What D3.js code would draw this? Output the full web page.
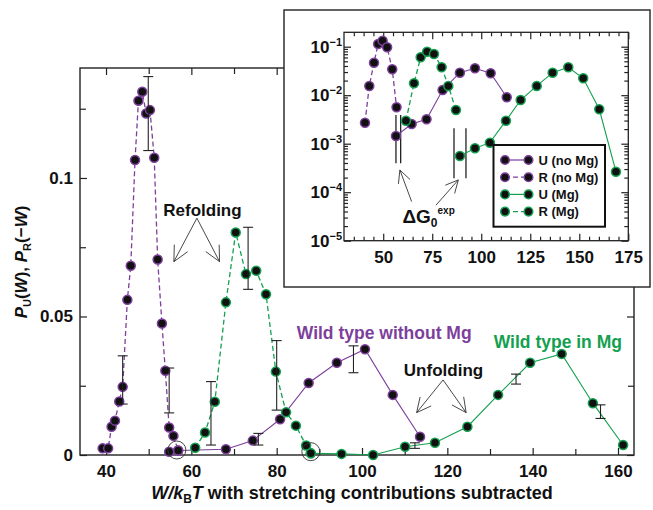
<!DOCTYPE html>
<html>
<head>
<meta charset="utf-8">
<script src="https://cdn.jsdelivr.net/npm/d3@7"></script>
<style>
body { margin: 0; background: #fff; }
text { font-family: "Liberation Sans", Arial, sans-serif; font-weight: bold; fill: #111; }
</style>
</head>
<body>
<div id="chart"></div>
<script>
// ---- main panel: [W/kT, probability] ----
var r_nomg = [
    [39.2, 0.0024], [40.5, 0.0024], [41.3, 0.0102], [42.1, 0.0124], [43.1, 0.0193],
    [43.9, 0.0246], [45.0, 0.0560], [45.8, 0.0683], [46.8, 0.1065], [47.6, 0.1279],
    [48.5, 0.1311], [49.4, 0.1233], [50.3, 0.1245], [51.3, 0.1073], [52.1, 0.0706],
    [53.1, 0.0475], [53.9, 0.0304], [54.8, 0.0099], [55.8, 0.0069], [56.9, 0.0016]
];
var u_nomg = [
    [54.8, 0.0012], [56.9, 0.0016], [68.1, 0.0021], [74.4, 0.0052], [80.8, 0.0129],
    [87.5, 0.0260], [94.1, 0.0333], [100.7, 0.0382], [107.2, 0.0217], [113.6, 0.0066]
];
var r_mg = [
    [60.9, 0.0026], [63.2, 0.0081], [65.5, 0.0192], [68.1, 0.0551], [70.4, 0.0803],
    [72.8, 0.0653], [75.2, 0.0665], [77.5, 0.0580], [79.8, 0.0301], [82.2, 0.0154],
    [84.5, 0.0106], [86.9, 0.0034], [88.0, 0.0006]
];
var u_mg = [
    [88.0, 0.0006], [95.2, 0.0004], [102.6, 0.0], [110.1, 0.0030], [117.1, 0.0044],
    [124.7, 0.0102], [131.9, 0.0217], [139.4, 0.0333], [146.8, 0.0365], [154.1, 0.0187],
    [161.2, 0.0036]
];
// error bars: [x, low, high]
var err_bars = [
    [43.9, 0.0184, 0.0358], [49.9, 0.1099, 0.1366], [54.8, 0.0152, 0.0314],
    [75.7, 0.0036, 0.0078], [98.0, 0.0297, 0.0394], [112.4, 0.0024, 0.0044],
    [64.6, 0.0036, 0.0265], [73.3, 0.0598, 0.0822], [80.0, 0.0162, 0.0413],
    [136.1, 0.0256, 0.0292], [155.9, 0.0132, 0.0181]
];
var crossings = [[56.6, 0.0018], [88.0, 0.0012]];

var x_ticks = [40, 60, 80, 100, 120, 140, 160];
var x_minor = [50, 70, 90, 110, 130, 150];
var y_ticks = [0, 0.05, 0.1];
var y_tick_labels = ['0', '0.05', '0.1'];
var y_minor = [0.025, 0.075, 0.125];

// ---- inset (log scale) ----
var in_r_nomg = [
    [40.7, 0.00271], [42.9, 0.0155], [45.3, 0.0468], [47.4, 0.114], [49.7, 0.133],
    [52.0, 0.097], [54.6, 0.0342], [56.8, 0.00564]
];
var in_u_nomg = [
    [56.5, 0.00144], [64.5, 0.00255], [72.1, 0.00318], [80.3, 0.0128], [89.1, 0.0291],
    [96.8, 0.0359], [104.8, 0.0283], [113.0, 0.00906]
];
var in_r_mg = [
    [61.6, 0.00298], [65.7, 0.0176], [69.1, 0.0604], [72.4, 0.0789], [75.9, 0.0707],
    [79.8, 0.0376], [83.2, 0.0155], [87.1, 0.00495]
];
var in_u_mg = [
    [89.1, 0.000557], [96.8, 0.000803], [104.4, 0.00105], [112.6, 0.00298], [120.1, 0.00796],
    [128.3, 0.0155], [136.4, 0.0291], [144.4, 0.0376], [152.0, 0.0223], [160.2, 0.00512],
    [168.7, 0.000265]
];
// vertical marker lines: [x, low, high]
var in_vlines = [
    [56.5, 0.000394, 0.0039], [58.9, 0.000394, 0.0039],
    [86.1, 0.000194, 0.00208], [92.2, 0.000194, 0.00208]
];
var in_x_ticks = [50, 75, 100, 125, 150, 175];
var in_y_exp = [-1, -2, -3, -4, -5];
var legend_names = ['U (no Mg)', 'R (no Mg)', 'U (Mg)', 'R (Mg)'];

var purple = '#7d3f9c';
var green = '#13a04f';

var chart_width = 653;
var chart_height = 510;

var svg = d3.select('#chart')
    .append('svg')
    .attr('width', chart_width)
    .attr('height', chart_height);

// ================= main panel =================
var x_scale = d3.scaleLinear().domain([33.9, 163.75]).range([80, 634]);
var y_scale = d3.scaleLinear().domain([0, 0.1397]).range([455, 68]);

function add_ticks(g, scale, orient, vals, size, labels, pad) {
    var ax = orient(scale).tickValues(vals).tickSizeInner(size).tickSizeOuter(0).tickPadding(pad || 0);
    if (labels) ax.tickFormat(function(d, i) { return labels[i]; });
    else ax.tickFormat('');
    var a = g.append('g').call(ax);
    a.select('.domain').remove();
    a.selectAll('line').attr('stroke', '#222').attr('stroke-width', 1.2);
    a.selectAll('text').style('font-size', '17px').style('fill', '#111');
    return a;
}

var main_g = svg.append('g');
var bx = main_g.append('g').attr('transform', 'translate(0,455)');
add_ticks(bx, x_scale, d3.axisBottom, x_ticks, -7, x_ticks.map(String), 10);
add_ticks(bx, x_scale, d3.axisBottom, x_minor, -6);
var tx = main_g.append('g').attr('transform', 'translate(0,68)');
add_ticks(tx, x_scale, d3.axisTop, x_ticks, -7);
add_ticks(tx, x_scale, d3.axisTop, x_minor, -6);
var ly = main_g.append('g').attr('transform', 'translate(80,0)');
add_ticks(ly, y_scale, d3.axisLeft, y_ticks, -7, y_tick_labels, 7);
add_ticks(ly, y_scale, d3.axisLeft, y_minor, -6);
var ry = main_g.append('g').attr('transform', 'translate(634,0)');
add_ticks(ry, y_scale, d3.axisRight, y_ticks, -7);
add_ticks(ry, y_scale, d3.axisRight, y_minor, -6);

main_g.append('rect')
    .attr('x', 80).attr('y', 68)
    .attr('width', 634 - 80).attr('height', 455 - 68)
    .attr('fill', 'none').attr('stroke', '#222').attr('stroke-width', 1.4);

function draw_series(g, xs, ys, data, color, dashed) {
    var line = d3.line()
        .x(function(d) { return xs(d[0]); })
        .y(function(d) { return ys(d[1]); });
    g.append('path')
        .datum(data)
        .attr('d', line)
        .attr('fill', 'none')
        .attr('stroke', color)
        .attr('stroke-width', dashed ? 1.3 : 1.1)
        .attr('stroke-dasharray', dashed ? '5,3' : null);
    g.append('g').selectAll('circle')
        .data(data)
        .enter()
        .append('circle')
        .attr('cx', function(d) { return xs(d[0]); })
        .attr('cy', function(d) { return ys(d[1]); })
        .attr('r', 4.5)
        .attr('fill', '#111')
        .attr('stroke', color)
        .attr('stroke-width', 1.5);
}

draw_series(main_g, x_scale, y_scale, u_nomg, purple, false);
draw_series(main_g, x_scale, y_scale, r_nomg, purple, true);
draw_series(main_g, x_scale, y_scale, u_mg, green, false);
draw_series(main_g, x_scale, y_scale, r_mg, green, true);

// error bars
var eb = main_g.append('g').selectAll('g')
    .data(err_bars)
    .enter()
    .append('g')
    .attr('stroke', '#222')
    .attr('stroke-width', 1.1);
eb.append('line')
    .attr('x1', function(d) { return x_scale(d[0]); })
    .attr('x2', function(d) { return x_scale(d[0]); })
    .attr('y1', function(d) { return y_scale(d[1]); })
    .attr('y2', function(d) { return y_scale(d[2]); });
[1, 2].forEach(function(k) {
    eb.append('line')
        .attr('x1', function(d) { return x_scale(d[0]) - 5; })
        .attr('x2', function(d) { return x_scale(d[0]) + 5; })
        .attr('y1', function(d) { return y_scale(d[k]); })
        .attr('y2', function(d) { return y_scale(d[k]); });
});

// circled crossings
main_g.append('g').selectAll('circle')
    .data(crossings)
    .enter()
    .append('circle')
    .attr('cx', function(d) { return x_scale(d[0]); })
    .attr('cy', function(d) { return y_scale(d[1]); })
    .attr('r', 9)
    .attr('fill', 'none')
    .attr('stroke', '#333')
    .attr('stroke-width', 0.9);

// arrows drawn from tail to tip, open heads
function arrow(g, x1, y1, x2, y2, len) {
    g.append('line')
        .attr('x1', x1).attr('y1', y1).attr('x2', x2).attr('y2', y2);
    var a = Math.atan2(y1 - y2, x1 - x2);
    [-0.46, 0.46].forEach(function(d) {
        g.append('line')
            .attr('x1', x2).attr('y1', y2)
            .attr('x2', x2 + len * Math.cos(a + d))
            .attr('y2', y2 + len * Math.sin(a + d));
    });
}
var arr_g = main_g.append('g').attr('stroke', '#333').attr('stroke-width', 0.9);
arrow(arr_g, x_scale(61.3), y_scale(0.0855), x_scale(55.9), y_scale(0.0698), 17);
arrow(arr_g, x_scale(61.3), y_scale(0.0855), x_scale(66.6), y_scale(0.0698), 17);
arrow(arr_g, x_scale(119.0), y_scale(0.0271), x_scale(112.8), y_scale(0.0153), 16);
arrow(arr_g, x_scale(119.0), y_scale(0.0271), x_scale(124.4), y_scale(0.0153), 16);

main_g.append('text')
    .attr('x', x_scale(62.6)).attr('y', y_scale(0.0884)).attr('dy', '0.35em')
    .attr('text-anchor', 'middle').style('font-size', '17px')
    .text('Refolding');
main_g.append('text')
    .attr('x', x_scale(119.1)).attr('y', y_scale(0.0307)).attr('dy', '0.35em')
    .attr('text-anchor', 'middle').style('font-size', '17px')
    .text('Unfolding');
main_g.append('text')
    .attr('x', x_scale(105.2)).attr('y', y_scale(0.044)).attr('dy', '0.35em')
    .attr('text-anchor', 'middle').style('font-size', '17.5px').style('fill', purple)
    .text('Wild type without Mg');
main_g.append('text')
    .attr('x', x_scale(145.9)).attr('y', y_scale(0.0409)).attr('dy', '0.35em')
    .attr('text-anchor', 'middle').style('font-size', '17.5px').style('fill', green)
    .text('Wild type in Mg');

// axis titles
var xl = svg.append('text')
    .attr('x', 352).attr('y', 499)
    .attr('text-anchor', 'middle').style('font-size', '18px');
xl.append('tspan').style('font-style', 'italic').text('W/k');
xl.append('tspan').attr('dy', 4).style('font-size', '12px').text('B');
xl.append('tspan').attr('dy', -4).style('font-style', 'italic').text('T');
xl.append('tspan').text(' with stretching contributions subtracted');

var yl = svg.append('text')
    .attr('transform', 'translate(27,262) rotate(-90)')
    .attr('text-anchor', 'middle').style('font-size', '17px');
yl.append('tspan').style('font-style', 'italic').text('P');
yl.append('tspan').attr('dy', 4).style('font-size', '11px').text('U');
yl.append('tspan').attr('dy', -4).text('(');
yl.append('tspan').style('font-style', 'italic').text('W');
yl.append('tspan').text('), ');
yl.append('tspan').style('font-style', 'italic').text('P');
yl.append('tspan').attr('dy', 4).style('font-size', '11px').text('R');
yl.append('tspan').attr('dy', -4).text('(\u2212');
yl.append('tspan').style('font-style', 'italic').text('W');
yl.append('tspan').text(')');

// ================= inset =================
svg.append('rect')
    .attr('x', 284).attr('y', 10)
    .attr('width', 650 - 284).attr('height', 287 - 10)
    .attr('fill', '#fff').attr('stroke', '#222').attr('stroke-width', 1.4);

var in_l = 344, in_r = 628.3, in_t = 32.3, in_b = 240.7;
var xi = d3.scaleLinear().domain([30, 175]).range([in_l, in_r]);
var yi = d3.scaleLog().domain([1e-5, 0.198]).range([in_b, in_t]);

var in_g = svg.append('g');
var minor_x = d3.range(35, 175, 5).filter(function(v) { return v % 25 !== 0; });
var minor_y = [];
in_y_exp.forEach(function(e) {
    if (e === -5) return;
    for (var m = 2; m <= 9; m++) minor_y.push(m * Math.pow(10, e - 1));
});
for (var m2 = 2; m2 <= 9 && m2 * 0.1 <= 0.198; m2++) minor_y.push(m2 * 0.1);

var in_major_y = in_y_exp.map(function(e) { return Math.pow(10, e); });

var ibx = in_g.append('g').attr('transform', 'translate(0,' + in_b + ')');
add_ticks(ibx, xi, d3.axisBottom, in_x_ticks, -7, in_x_ticks.map(String), 10);
add_ticks(ibx, xi, d3.axisBottom, minor_x, -4);
var itx = in_g.append('g').attr('transform', 'translate(0,' + in_t + ')');
add_ticks(itx, xi, d3.axisTop, in_x_ticks, -7);
add_ticks(itx, xi, d3.axisTop, minor_x, -4);
var ily = in_g.append('g').attr('transform', 'translate(' + in_l + ',0)');
var ylab = add_ticks(ily, yi, d3.axisLeft, in_major_y, -7, in_y_exp.map(String), 2);
add_ticks(ily, yi, d3.axisLeft, minor_y, -4);
var iry = in_g.append('g').attr('transform', 'translate(' + in_r + ',0)');
add_ticks(iry, yi, d3.axisRight, in_major_y, -7);
add_ticks(iry, yi, d3.axisRight, minor_y, -4);

ylab.selectAll('text').each(function(d, i) {
    var t = d3.select(this);
    t.text(null);
    t.append('tspan').text('10');
    t.append('tspan').attr('dy', -7).style('font-size', '11px').text('\u2212' + (-in_y_exp[i]));
});

in_g.append('rect')
    .attr('x', in_l).attr('y', in_t)
    .attr('width', in_r - in_l).attr('height', in_b - in_t)
    .attr('fill', 'none').attr('stroke', '#222').attr('stroke-width', 1.3);

in_g.append('g').selectAll('line')
    .data(in_vlines)
    .enter()
    .append('line')
    .attr('x1', function(d) { return xi(d[0]); })
    .attr('x2', function(d) { return xi(d[0]); })
    .attr('y1', function(d) { return yi(d[1]); })
    .attr('y2', function(d) { return yi(d[2]); })
    .attr('stroke', '#222').attr('stroke-width', 1.3);

draw_series(in_g, xi, yi, in_u_nomg, purple, false);
draw_series(in_g, xi, yi, in_r_nomg, purple, true);
draw_series(in_g, xi, yi, in_u_mg, green, false);
draw_series(in_g, xi, yi, in_r_mg, green, true);

var in_arr = in_g.append('g').attr('stroke', '#333').attr('stroke-width', 0.9);
arrow(in_arr, xi(64.5), yi(6.4e-5), xi(58.5), yi(0.000287), 14);
arrow(in_arr, xi(76.9), yi(5.4e-5), xi(88.3), yi(0.000179), 14);

var dg = in_g.append('text')
    .attr('x', xi(59.8)).attr('y', yi(2.3e-5))
    .style('font-size', '19px');
dg.append('tspan').text('\u0394G');
dg.append('tspan').attr('dy', 4).style('font-size', '12px').text('0');
dg.append('tspan').attr('dy', -13).style('font-size', '10px').text('exp');

// legend
var leg = in_g.append('g').attr('transform', 'translate(' + (in_l + 149.5) + ',' + (in_t + 112.7) + ')');
leg.append('rect')
    .attr('width', 111.5).attr('height', 81.7)
    .attr('fill', '#fff').attr('stroke', '#111').attr('stroke-width', 2);
var leg_items = leg.selectAll('.item')
    .data(legend_names)
    .enter()
    .append('g')
    .attr('transform', function(d, i) { return 'translate(0,' + (15 + i * 17.2) + ')'; });
leg_items.append('line')
    .attr('x1', 11.5).attr('x2', 35)
    .attr('stroke', function(d, i) { return i < 2 ? purple : green; })
    .attr('stroke-width', 1.2)
    .attr('stroke-dasharray', function(d, i) { return i % 2 ? '5,3' : null; });
[11.5, 35].forEach(function(cx) {
    leg_items.append('circle')
        .attr('cx', cx).attr('r', 4.3)
        .attr('fill', '#111')
        .attr('stroke', function(d, i) { return i < 2 ? purple : green; })
        .attr('stroke-width', 1.5);
});
leg_items.append('text')
    .attr('x', 45).attr('dy', '0.35em')
    .style('font-size', '13px')
    .text(function(d) { return d; });
</script>
</body>
</html>
